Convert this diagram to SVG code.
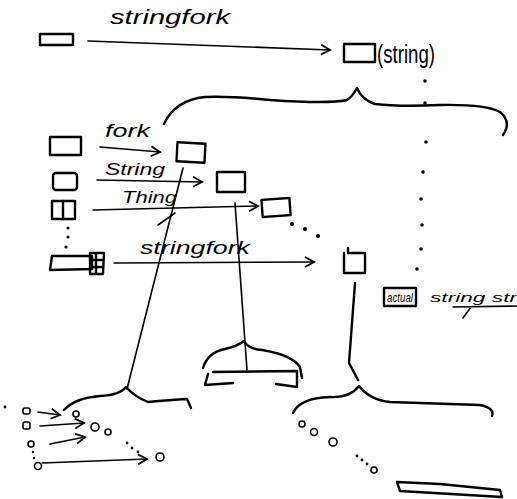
<svg xmlns="http://www.w3.org/2000/svg" width="517" height="499" viewBox="0 0 517 499">
<style>
.s{fill:none;stroke:#000;stroke-width:2.4;stroke-linecap:round;stroke-linejoin:round}
.t{fill:none;stroke:#000;stroke-width:1.6;stroke-linecap:round}
.d{fill:#000}
text{font-family:"Liberation Sans",Arial,sans-serif;font-style:italic;fill:#000}
text.up{font-style:normal}
</style>
<defs>
<marker id="ah" markerWidth="12" markerHeight="12" refX="10" refY="6" orient="auto" markerUnits="userSpaceOnUse">
<path d="M1,1 L10,6 L1,11" fill="none" stroke="#000" stroke-width="1.8"/>
</marker>
</defs>
<rect width="517" height="499" fill="#fff"/>

<g id="top-src"><rect class="s" x="40" y="34" width="33" height="11"/></g>
<g id="top-dst"><rect class="s" x="344" y="44" width="31" height="18"/><text class="up" x="377" y="63" font-size="26" textLength="58" lengthAdjust="spacingAndGlyphs">(string)</text></g>

<g id="left-col">
<rect class="s" x="50" y="137" width="31" height="18"/>
<rect class="s" x="53" y="173" width="24" height="17" rx="3"/>
<rect class="s" x="52" y="201" width="23" height="18"/><line class="s" x1="63" y1="201" x2="63" y2="219"/>
<circle class="d" cx="68" cy="228" r="1.6"/><circle class="d" cx="68" cy="237" r="1.6"/><circle class="d" cx="66" cy="247" r="1.6"/>
<path class="s" d="M52,256 L92,256 L92,269 L50,270 Z"/>
<path class="s" d="M90,253 L104,253 L103,274 L90,274 Z M90,260 L103,260 M90,267 L103,267 M96,253 L96,274"/>
</g>

<g id="mid-boxes">
<rect class="s" x="177" y="143" width="28" height="19" transform="rotate(3 191 152)"/>
<rect class="s" x="217" y="172" width="28" height="20"/>
<rect class="s" x="262" y="199" width="28" height="17" transform="rotate(-4 276 207)"/>
<circle class="d" cx="292" cy="224" r="2"/><circle class="d" cx="305" cy="229" r="2"/><circle class="d" cx="318" cy="236" r="2"/>
<path class="s" d="M344,253 L344,273 L365,273 L365,253 L348,253 M348,248 L348,253"/>
</g>

<g id="dotted-col">
<circle class="d" cx="425" cy="81" r="1.8"/><circle class="d" cx="425" cy="103" r="1.8"/><circle class="d" cx="426" cy="142" r="1.8"/>
<circle class="d" cx="423" cy="172" r="1.8"/><circle class="d" cx="421" cy="199" r="1.8"/><circle class="d" cx="422" cy="225" r="1.8"/>
<circle class="d" cx="421" cy="249" r="1.8"/><circle class="d" cx="417" cy="269" r="1.8"/>
</g>

<g id="braces">
<path class="s" d="M164,124 Q175,100 205,97 Q230,96 270,100 Q330,104 347,100 Q352,97 357,88 Q362,100 375,104 Q400,107 440,105 Q485,104 500,112 Q512,122 503,135" stroke-width="3"/>
<path class="s" d="M203,368 Q208,352 225,349 Q238,346 244,341 Q248,349 262,350 Q292,355 300,367 L302,378"/>
<path class="s" d="M64,410 Q75,398 100,396 Q120,395 126,387 Q135,397 148,402 Q170,400 187,399 L191,408"/>
<path class="s" d="M293,413 Q300,398 330,397 Q350,398 359,386 Q370,400 390,402 Q450,404 480,405 Q495,408 492,416"/>
</g>

<g id="mid-bar">
<path class="s" d="M213,372 L297,371 L297,387 L276,384 M233,383 L205,385 L208,374"/>
</g>

<g id="actual-box">
<rect class="s" x="384" y="288" width="32" height="18" stroke-width="2"/>
<text x="387" y="302" font-size="13" textLength="26" lengthAdjust="spacingAndGlyphs">actual</text>
<text x="430" y="302" font-size="13" textLength="87" lengthAdjust="spacingAndGlyphs">string str</text>
<path class="t" d="M453,307 L517,306 M471,307 L463,318"/>
</g>

<g id="bottom-left">
<rect class="t" x="23" y="408" width="7" height="6" rx="2"/>
<rect class="t" x="23" y="422" width="7" height="7" rx="2"/>
<circle class="t" cx="31" cy="444" r="3"/>
<circle class="d" cx="33" cy="452" r="1.2"/><circle class="d" cx="34" cy="458" r="1.2"/>
<circle class="t" cx="38" cy="466" r="3.5"/>
<circle class="t" cx="76" cy="414" r="3"/><circle class="t" cx="95" cy="427" r="4"/><circle class="t" cx="108" cy="432" r="3"/>
<circle class="d" cx="127" cy="443" r="1.4"/><circle class="d" cx="132" cy="448" r="1.4"/><circle class="d" cx="138" cy="452" r="1.4"/>
<circle class="t" cx="160" cy="457" r="4"/>
<circle class="d" cx="5" cy="407" r="1.4"/>
</g>

<g id="bottom-right">
<circle class="t" cx="302" cy="424" r="3"/><circle class="t" cx="314" cy="432" r="3.5"/><circle class="t" cx="333" cy="442" r="4"/>
<circle class="d" cx="357" cy="456" r="1.4"/><circle class="d" cx="362" cy="460" r="1.4"/><circle class="d" cx="367" cy="464" r="1.4"/>
<circle class="t" cx="374" cy="470" r="3"/>
<path class="s" d="M397,482 L440,484 L500,490 L502,497 L400,491 Z" stroke-width="2"/>
</g>

<g id="connectors">
<line class="t" x1="88" y1="41" x2="330" y2="50" marker-end="url(#ah)"/>
<text x="110" y="24" font-size="20" textLength="120" lengthAdjust="spacingAndGlyphs">stringfork</text>
<line class="t" x1="100" y1="147" x2="160" y2="152" marker-end="url(#ah)"/>
<text x="105" y="137" font-size="18" textLength="45" lengthAdjust="spacingAndGlyphs">fork</text>
<line class="t" x1="97" y1="180" x2="202" y2="182" marker-end="url(#ah)"/>
<text x="105" y="175" font-size="17" textLength="60" lengthAdjust="spacingAndGlyphs">String</text>
<line class="t" x1="93" y1="210" x2="258" y2="206" marker-end="url(#ah)"/>
<text x="122" y="203" font-size="17" textLength="55" lengthAdjust="spacingAndGlyphs">Thing</text>
<line class="t" x1="158" y1="225" x2="175" y2="213"/>
<line class="t" x1="114" y1="263" x2="314" y2="262" marker-end="url(#ah)"/>
<text x="140" y="254" font-size="18" textLength="110" lengthAdjust="spacingAndGlyphs">stringfork</text>
<line class="t" x1="183" y1="168" x2="127" y2="389"/>
<line class="t" x1="235" y1="203" x2="247" y2="370"/>
<path class="s" d="M355,283 L349,363 L358,380"/>
<line class="t" x1="38" y1="412" x2="60" y2="415" marker-end="url(#ah)"/>
<line class="t" x1="40" y1="426" x2="84" y2="423" marker-end="url(#ah)"/>
<line class="t" x1="50" y1="444" x2="85" y2="437" marker-end="url(#ah)"/>
<line class="t" x1="42" y1="463" x2="147" y2="459" marker-end="url(#ah)"/>
</g>
</svg>
